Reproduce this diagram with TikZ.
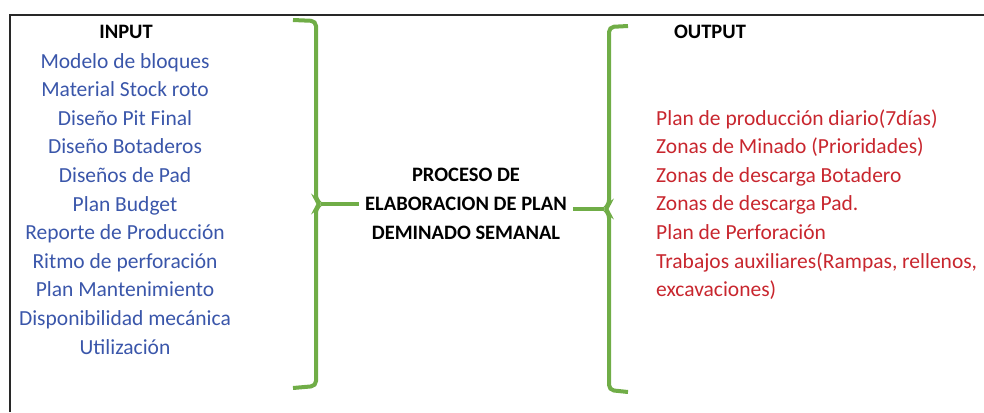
\documentclass[tikz,border=0pt]{standalone}
\usepackage{fontspec}
\setmainfont{Carlito}
\usepackage{tikz}

\definecolor{inblue}{RGB}{58,86,170}
\definecolor{outred}{RGB}{200,38,46}
\definecolor{bracegreen}{RGB}{112,173,71}
\definecolor{framegray}{RGB}{40,40,40}

\tikzset{
        initem/.style={text=inblue, font=\fontsize{21.5}{26}\selectfont, inner sep=0pt, anchor=base},
        outitem/.style={text=outred, font=\fontsize{21.5}{26}\selectfont, inner sep=0pt, anchor=base west},
        heading/.style={font=\bfseries\fontsize{20.5}{26}\selectfont, inner sep=0pt, anchor=base},
        brace/.style={draw=bracegreen, line width=4pt, rounded corners=5pt}
}

\begin{document}
\begin{tikzpicture}[x=1pt, y=-1pt]
        \useasboundingbox (0,0) rectangle (984,412);

        % Define the frame
        \draw[framegray, line width=1.8pt] (10,412) -- (10,15) -- (984,15);

        % Define the input column
        \node[heading] (input) at (126,39) {INPUT};
        \foreach \txt [count=\i] in {Modelo de bloques, Material Stock roto, Diseño Pit Final,
                Diseño Botaderos, Diseños de Pad, Plan Budget, Reporte de Producción,
                Ritmo de perforación, Plan Mantenimiento, Disponibilidad mecánica, Utilización}
                \node[initem] (in\i) at (125,39.4+28.6*\i) {\txt};

        % Define the process
        \node[font=\bfseries\fontsize{20.5}{29}\selectfont, align=center, inner xsep=6pt, inner ysep=0pt]
                (proc) at (466,204) {PROCESO DE\\ELABORACION DE PLAN\\DEMINADO SEMANAL};

        % Define the output column
        \node[heading] (output) at (710,39) {OUTPUT};
        \foreach \txt [count=\i] in {Plan de producción diario(7días), Zonas de Minado (Prioridades),
                Zonas de descarga Botadero, Zonas de descarga Pad., Plan de Perforación,
                {Trabajos auxiliares(Rampas, rellenos,}, excavaciones)}
                \node[outitem] (out\i) at (656,96.4+28.6*\i) {\txt};

        % Define the braces
        \coordinate (lt) at (321,204);
        \coordinate (rt) at (604,209);
        \draw[brace] (293,20) -- (316,21) -- (316,200) -- (lt) -- (316,208) -- (316,386) -- (293,388);
        \draw[brace] (628,26) -- (609,27) -- (609,205) -- (rt) -- (609,213) -- (609,390) -- (628,392);

        % Define the edges
        \draw[draw=bracegreen, line width=4pt] (lt) -- (proc.west);
        \draw[draw=bracegreen, line width=4pt] (proc.east |- rt) -- (rt);

\end{tikzpicture}
\end{document}
